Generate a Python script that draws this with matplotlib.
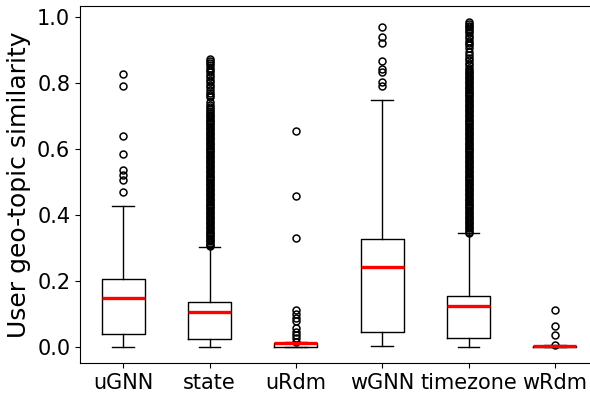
import matplotlib
matplotlib.use('Agg')
import matplotlib.pyplot as plt

metodos = ['uGNN', 'state', 'uRdm', 'wGNN', 'timezone', 'wRdm']

# estadisticas de cada caja
q1 = [0.038, 0.023, 0.000, 0.046, 0.026, 0.000]
mediana = [0.149, 0.105, 0.011, 0.242, 0.124, 0.002]
q3 = [0.206, 0.135, 0.012, 0.327, 0.155, 0.003]
bigote_bajo = [0.000, 0.000, 0.000, 0.002, 0.000, 0.000]
bigote_alto = [0.428, 0.303, 0.014, 0.749, 0.345, 0.004]

atipicos_uGNN = [0.469, 0.506, 0.521, 0.536, 0.586, 0.639, 0.793, 0.829]

atipicos_state = [
    0.305, 0.310, 0.315, 0.320, 0.325, 0.330, 0.335, 0.340, 0.345, 0.350,
    0.355, 0.360, 0.365, 0.370, 0.375, 0.380, 0.385, 0.390, 0.395, 0.400,
    0.405, 0.410, 0.415, 0.420, 0.425, 0.430, 0.435, 0.440, 0.445, 0.450,
    0.455, 0.460, 0.465, 0.470, 0.475, 0.480, 0.485, 0.490, 0.495, 0.500,
    0.505, 0.510, 0.515, 0.520, 0.525, 0.530, 0.535, 0.540, 0.545, 0.550,
    0.555, 0.560, 0.565, 0.570, 0.575, 0.580, 0.585, 0.590, 0.595, 0.600,
    0.605, 0.610, 0.615, 0.620, 0.625, 0.630, 0.635, 0.640, 0.645, 0.650,
    0.655, 0.660, 0.665, 0.670, 0.675, 0.680, 0.685, 0.690, 0.695, 0.700,
    0.705, 0.710, 0.716, 0.722, 0.728, 0.735, 0.742, 0.758, 0.765, 0.772,
    0.780, 0.788, 0.795, 0.803, 0.810, 0.818, 0.825, 0.833, 0.840, 0.848,
    0.855, 0.862, 0.868, 0.875]

atipicos_uRdm = [0.016, 0.027, 0.036, 0.046, 0.058, 0.077, 0.088, 0.100,
                 0.112, 0.329, 0.458, 0.655]

atipicos_wGNN = [0.791, 0.804, 0.834, 0.842, 0.867, 0.922, 0.942, 0.971]

atipicos_timezone = [
    0.345, 0.350, 0.355, 0.360, 0.365, 0.370, 0.375, 0.380, 0.385, 0.390,
    0.395, 0.400, 0.405, 0.410, 0.415, 0.420, 0.425, 0.430, 0.435, 0.440,
    0.445, 0.450, 0.455, 0.460, 0.465, 0.470, 0.475, 0.480, 0.485, 0.490,
    0.495, 0.500, 0.505, 0.510, 0.515, 0.520, 0.525, 0.530, 0.535, 0.540,
    0.545, 0.550, 0.555, 0.560, 0.565, 0.570, 0.575, 0.580, 0.585, 0.590,
    0.595, 0.600, 0.605, 0.610, 0.615, 0.620, 0.625, 0.630, 0.635, 0.640,
    0.645, 0.650, 0.655, 0.660, 0.665, 0.670, 0.675, 0.680, 0.685, 0.690,
    0.695, 0.700, 0.705, 0.710, 0.715, 0.720, 0.725, 0.730, 0.735, 0.740,
    0.745, 0.750, 0.755, 0.760, 0.765, 0.770, 0.775, 0.780, 0.785, 0.790,
    0.795, 0.800, 0.805, 0.810, 0.815, 0.820, 0.825, 0.830, 0.835, 0.840,
    0.848, 0.855, 0.862, 0.870, 0.878, 0.885, 0.895, 0.908, 0.915, 0.922,
    0.930, 0.938, 0.945, 0.952, 0.958, 0.965, 0.970, 0.975, 0.980, 0.985]

atipicos_wRdm = [0.006, 0.035, 0.064, 0.113]

atipicos = [atipicos_uGNN, atipicos_state, atipicos_uRdm,
            atipicos_wGNN, atipicos_timezone, atipicos_wRdm]

stats = []
for i in range(len(metodos)):
    stats.append({'label': metodos[i], 'q1': q1[i], 'med': mediana[i], 'q3': q3[i],
                  'whislo': bigote_bajo[i], 'whishi': bigote_alto[i],
                  'fliers': atipicos[i]})

fig = plt.figure(figsize=(5.9, 3.93), dpi=100)
# el eje se sale un poco por la derecha
ax = fig.add_axes([0.1356, 0.0763, 0.878, 0.908])
ax.bxp(stats,
       medianprops=dict(color='red', linewidth=2.4),
       flierprops=dict(marker='o', markersize=5, markerfacecolor='none',
                       markeredgecolor='black', markeredgewidth=1.1))

ax.set_ylabel('User geo-topic similarity', fontsize=18)
ax.tick_params(axis='both', labelsize=15)
ax.set_yticks([0.0, 0.2, 0.4, 0.6, 0.8, 1.0])
ax.set_xlim(0.5, 6.5)

fig.savefig('out.png', dpi=100)
